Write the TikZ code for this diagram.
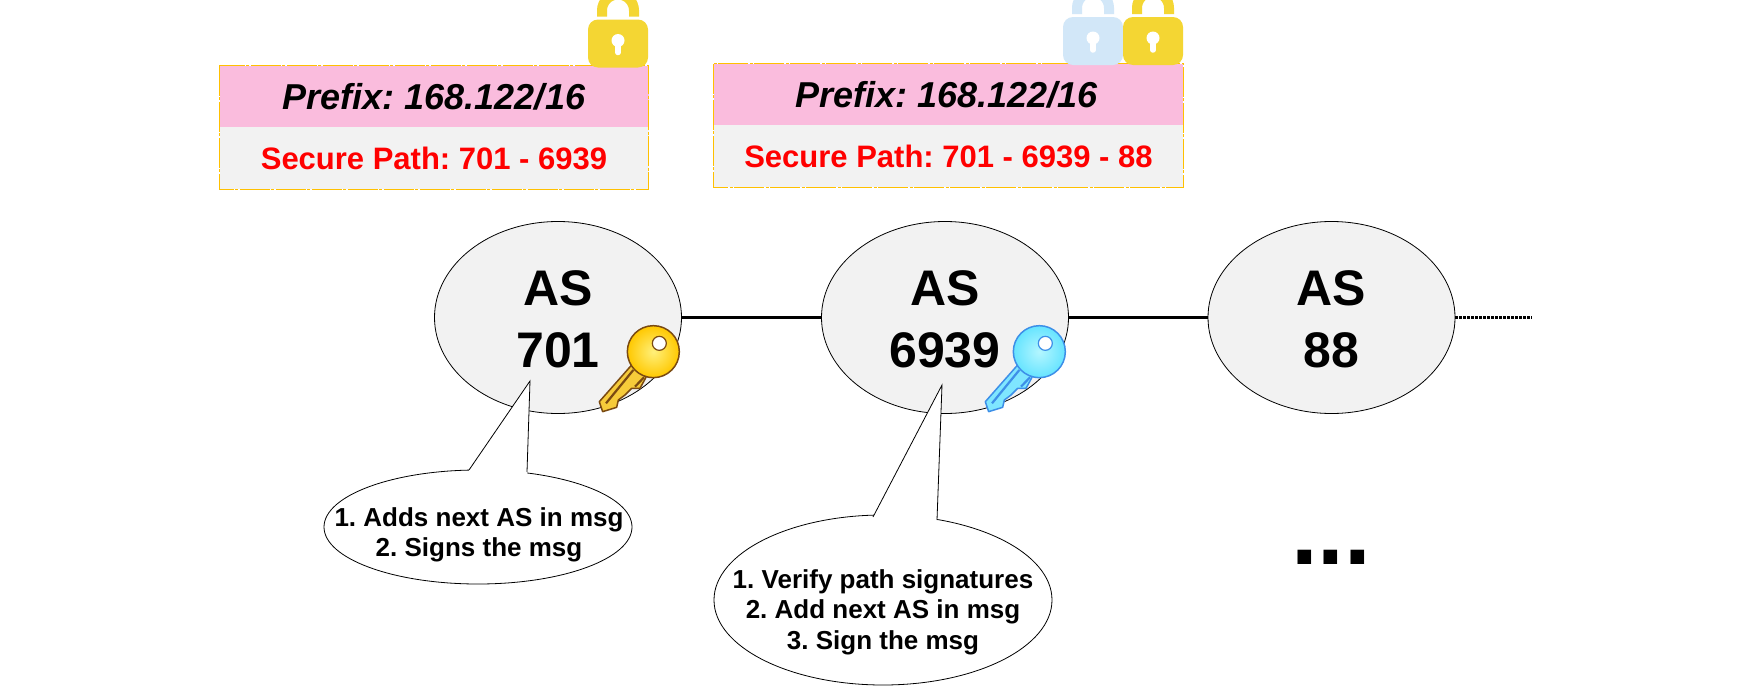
\documentclass[tikz,border=0pt]{standalone}
\usepackage{fontspec}
\setmainfont{Liberation Sans}
\usetikzlibrary{shapes.geometric}
\definecolor{boxpink}{HTML}{FABCDD}
\definecolor{boxgray}{HTML}{F2F2F2}
\definecolor{boxline}{HTML}{FFC000}
\definecolor{lockgold}{HTML}{F4D633}
\definecolor{lockblue}{HTML}{D2E7F8}
\definecolor{goldedge}{HTML}{7A4A12}
\definecolor{goldshaft}{HTML}{F6CB3A}
\definecolor{goldin}{HTML}{FFF07A}
\definecolor{goldout}{HTML}{FFC800}
\definecolor{cyanedge}{HTML}{3D8FE8}
\definecolor{cyanshaft}{HTML}{7FE6FF}
\definecolor{cyanin}{HTML}{B4F6FF}
\definecolor{cyanout}{HTML}{66E4FF}
\newcommand{\lockat}[3]{% x, top y, colour
  \begin{scope}[shift={(#1,#2)}]
    \draw[#3,line width=10pt] (14,-3) -- (14,-9) arc[start angle=180,end angle=360,radius=16] -- (46,-3);
    \fill[#3,rounded corners=10pt] (0,0) rectangle (60,48);
    \fill[white] (30,21) circle (6.5);
    \draw[white,line width=5.5pt,line cap=round] (30,21) -- (30,33);
  \end{scope}}
\newcommand{\keyat}[6]{% x, y, outline, shaft fill, inner, outer
  \begin{scope}[shift={(#1,#2)},x=0.3333pt,y=-0.3333pt]
    \draw[#3,fill=#4,line width=1.5pt,line join=round]
      (125,135) -- (28,245) -- (38,275) -- (80,262) -- (85,240) -- (105,225)
      -- (125,205) -- (150,205) -- (168,172) -- cycle;
    \draw[#3,line width=2.2pt] (130,150) -- (48,250);
    \draw[#3,line width=2.2pt] (162,172) -- (135,200);
    \draw[#3,line width=1.5pt,inner color=#5,outer color=#6] (190,95) circle (78);
    \draw[#3,line width=1.2pt,fill=white] (208,70) circle (21);
  \end{scope}}
\tikzset{
  asnode/.style={ellipse,draw=black,line width=0.8pt,fill=boxgray,minimum width=247pt,minimum height=192pt,inner sep=0pt},
  astext/.style={inner sep=0pt,align=center,font=\fontsize{50}{62}\selectfont\bfseries},
  linkline/.style={draw=black,line width=2.6pt},
  prefixbar/.style={rectangle,fill=boxpink,inner sep=0pt,minimum height=61pt,font=\fontsize{36}{42}\selectfont\bfseries\itshape},
  pathbar/.style={rectangle,fill=boxgray,inner sep=0pt,minimum height=62pt,text=red,font=\fontsize{31}{36}\selectfont\bfseries},
  boxedge/.style={draw=boxline,line width=1.2pt,dash pattern=on 30pt off 1.5pt on 3pt off 1.5pt},
  callout/.style={ellipse,draw=black,line width=0.8pt,fill=white,inner sep=0pt},
  callouttext/.style={inner sep=0pt,align=center,font=\fontsize{26}{30.5}\selectfont\bfseries},
}
\begin{document}
\frenchspacing
\begin{tikzpicture}[x=1pt,y=-1pt]
\useasboundingbox (0,0) rectangle (1754,699);
\clip (0,0) rectangle (1754,699);
\fill[white] (0,0) rectangle (1754,699);

% message boxes
\node[prefixbar,minimum width=429pt] (p1) at (434,96.5) {Prefix: 168.122/16};
\node[pathbar,minimum width=429pt] (g1) at (434,158) {\raisebox{0pt}{Secure Path: 701 - 6939}};
\draw[boxedge] (p1.north west) rectangle (g1.south east);
\node[prefixbar,minimum width=469.5pt] (p2) at (948.5,94.5) {\hspace*{-4pt}Prefix: 168.122/16};
\node[pathbar,minimum width=469.5pt] (g2) at (948.5,156) {\raisebox{-2pt}{Secure Path: 701 - 6939 - 88}};
\draw[boxedge] (p2.north west) rectangle (g2.south east);

% locks
\lockat{588}{19.5}{lockgold}
\lockat{1063}{17}{lockblue}
\lockat{1123}{17}{lockgold}

% AS nodes
\node[asnode] (a1) at (558,317.5) {};
\node[asnode] (a2) at (945,317.5) {};
\node[asnode] (a3) at (1331.5,317.5) {};
\node[astext] (a1t) at (558,319) {AS\\701};
\node[astext] (a2t) at (945,319) {AS\\6939};
\node[astext] (a3t) at (1331.5,319) {AS\\88};
\coordinate (more) at (1532,317.5);
\draw[linkline] (a1) -- (a2);
\draw[linkline] (a2) -- (a3);
\draw[draw=black,line width=2.6pt,dash pattern=on 2.5pt off 1.5pt] (a3) -- (more);

% callouts
\node[callout,minimum width=308pt,minimum height=114pt] (c1) at (478,527) {};
\node[callouttext] (c1t) at (479,535) {1. Adds next AS in msg\\2. Signs the msg};
\coordinate (t1) at (530,381);
\coordinate (c1l) at (469,470);
\coordinate (c1r) at (527,472);
\fill[white] (c1l) -- (t1) -- (c1r) -- (527,480) -- (469,480) -- cycle;
\draw[black,line width=0.8pt] (c1l) -- (t1) -- (c1r);

\node[callout,minimum width=338pt,minimum height=170pt] (c2) at (883,600) {};
\node[callouttext] (c2t) at (883,612) {1. Verify path signatures\\2. Add next AS in msg\\3. Sign the msg};
\coordinate (t2) at (942,385);
\coordinate (c2l) at (873,517);
\coordinate (c2r) at (937,520);
\fill[white] (c2l) -- (t2) -- (c2r) -- (937,530) -- (873,530) -- cycle;
\draw[black,line width=0.8pt] (c2l) -- (t2) -- (c2r);

% keys
\keyat{590}{320}{goldedge}{goldshaft}{goldin}{goldout}
\keyat{976}{320}{cyanedge}{cyanshaft}{cyanin}{cyanout}

% ellipsis
\node[inner sep=0pt,font=\fontsize{96}{96}\selectfont\bfseries] (dots) at (1331,557) {...};
\end{tikzpicture}
\end{document}
